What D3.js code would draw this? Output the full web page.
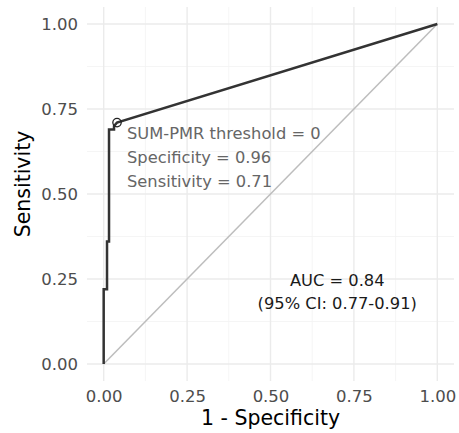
<!DOCTYPE html>
<html>
<head>
<meta charset="utf-8">
<script src="https://cdn.jsdelivr.net/npm/d3@7"></script>
<style>
  html, body { margin: 0; padding: 0; background: #fff; }
  svg { display: block; font-family: "DejaVu Sans", sans-serif; }
</style>
</head>
<body>
<svg id="chart" width="459" height="433"></svg>
<script>
// ROC curve points (false positive rate, true positive rate)
const rocFpr = [0, 0, 0.010, 0.010, 0.016, 0.016, 0.031, 0.031, 0.04, 1];
const rocTpr = [0, 0.22, 0.22, 0.36, 0.36, 0.69, 0.69, 0.70, 0.71, 1];

// Selected threshold point
const cutFpr = 0.04;
const cutTpr = 0.71;
const cutLines = ["SUM-PMR threshold = 0", "Specificity = 0.96", "Sensitivity = 0.71"];

// AUC annotation
const aucLines = ["AUC = 0.84", "(95% CI: 0.77-0.91)"];
const aucPos = [0.70, 0.25];

// Axis ticks
const majorTicks = [0, 0.25, 0.5, 0.75, 1];
const minorTicks = [0.125, 0.375, 0.625, 0.875];
const tickLabels = ["0.00", "0.25", "0.50", "0.75", "1.00"];

const svg = d3.select("#chart");
const x = d3.scaleLinear().domain([-0.05, 1.05]).range([87, 454]);
const y = d3.scaleLinear().domain([-0.05, 1.05]).range([381, 7]);

// grid
const grid = svg.append("g");
minorTicks.forEach(t => {
  grid.append("line").attr("x1", x(t)).attr("x2", x(t)).attr("y1", y.range()[0]).attr("y2", y.range()[1])
    .attr("stroke", "#f2f2f2").attr("stroke-width", 0.8);
  grid.append("line").attr("y1", y(t)).attr("y2", y(t)).attr("x1", x.range()[0]).attr("x2", x.range()[1])
    .attr("stroke", "#f2f2f2").attr("stroke-width", 0.8);
});
majorTicks.forEach(t => {
  grid.append("line").attr("x1", x(t)).attr("x2", x(t)).attr("y1", y.range()[0]).attr("y2", y.range()[1])
    .attr("stroke", "#ebebeb").attr("stroke-width", 1.4);
  grid.append("line").attr("y1", y(t)).attr("y2", y(t)).attr("x1", x.range()[0]).attr("x2", x.range()[1])
    .attr("stroke", "#ebebeb").attr("stroke-width", 1.4);
});

// axes (labels only, no lines)
const xAxis = d3.axisBottom(x).tickValues(majorTicks).tickSize(0).tickPadding(0)
  .tickFormat((d, i) => tickLabels[i]);
const yAxis = d3.axisLeft(y).tickValues(majorTicks).tickSize(0).tickPadding(0)
  .tickFormat((d, i) => tickLabels[i]);

const gx = svg.append("g").attr("transform", "translate(0,402)").call(xAxis);
const gy = svg.append("g").attr("transform", "translate(78,0)").call(yAxis);
[gx, gy].forEach(g => {
  g.select(".domain").remove();
  g.selectAll("text").attr("fill", "#4d4d4d").style("font-size", "16.5px")
    .style("font-family", "DejaVu Sans, sans-serif");
});
gx.selectAll("text").attr("dy", "0");
gy.selectAll("text").attr("dy", "0.36em");

// axis titles
svg.append("text").attr("x", x(0.5)).attr("y", 425).attr("text-anchor", "middle")
  .attr("fill", "#000").style("font-size", "20.5px").text("1 - Specificity");
svg.append("text").attr("transform", "translate(30,184) rotate(-90)").attr("text-anchor", "middle")
  .attr("fill", "#000").style("font-size", "20.5px").text("Sensitivity");

// reference diagonal
svg.append("line").attr("x1", x(0)).attr("y1", y(0)).attr("x2", x(1)).attr("y2", y(1))
  .attr("stroke", "#bdbdbd").attr("stroke-width", 1.5);

// ROC curve
const line = d3.line().x(d => x(d[0])).y(d => y(d[1]));
svg.append("path").datum(d3.zip(rocFpr, rocTpr)).attr("d", line)
  .attr("fill", "none").attr("stroke", "#333333").attr("stroke-width", 2.5)
  .attr("stroke-linejoin", "miter");

// threshold marker
svg.append("circle").attr("cx", x(cutFpr)).attr("cy", y(cutTpr)).attr("r", 4.2)
  .attr("fill", "none").attr("stroke", "#222").attr("stroke-width", 1.3);

// threshold annotation
const cutText = svg.append("text").attr("fill", "#666666").style("font-size", "16.3px");
cutLines.forEach((s, i) => {
  cutText.append("tspan").attr("x", x(cutFpr) + 10).attr("y", y(cutTpr) + 16.5 + i * 24).text(s);
});

// AUC annotation
const aucText = svg.append("text").attr("fill", "#1a1a1a").style("font-size", "16.3px").attr("text-anchor", "middle");
aucLines.forEach((s, i) => {
  aucText.append("tspan").attr("x", x(aucPos[0])).attr("y", y(aucPos[1]) + 6.5 + i * 23.5).text(s);
});
</script>
</body>
</html>
